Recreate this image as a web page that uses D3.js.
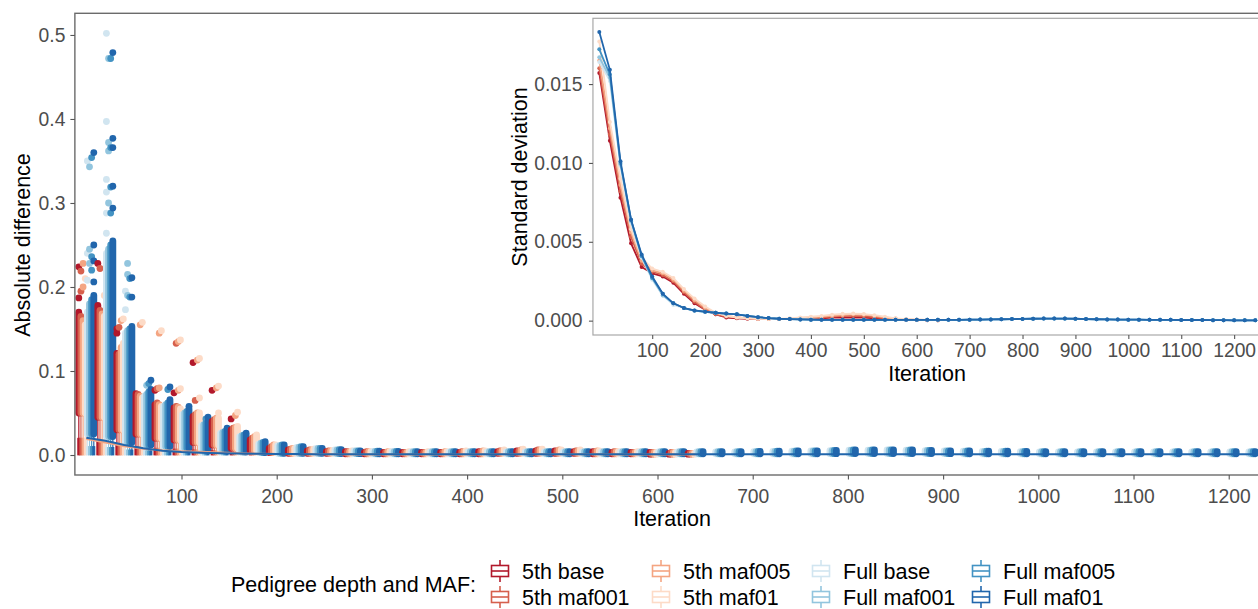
<!DOCTYPE html>
<html><head><meta charset="utf-8">
<script src="https://cdn.jsdelivr.net/npm/d3@7"></script>
<style>
body{margin:0;background:#fff;overflow:hidden;}
text{font-family:"Liberation Sans",Arial,Helvetica,sans-serif;}
</style></head><body>
<svg id="chart" width="1258" height="609"></svg>
<script>
// ---------------- categories / labels ----------------
const iterations = [1,20,40,60,80,100,120,140,160,180,200,220,240,260,280,300,320,340,360,380,400,420,440,460,480,500,520,540,560,580,600,620,640,660,680,700,720,740,760,780,800,820,840,860,880,900,920,940,960,980,1000,1020,1040,1060,1080,1100,1120,1140,1160,1180,1200,1220,1240];
const xTickLabels = [100,200,300,400,500,600,700,800,900,1000,1100,1200];
const mainYTicks = [0,0.1,0.2,0.3,0.4,0.5];
const insetYTicks = [0,0.005,0.010,0.015];
const seriesNames = ["5th base","5th maf001","5th maf005","5th maf01","Full base","Full maf001","Full maf005","Full maf01"];
const seriesColors = ["#b2182b","#d6604d","#f4a582","#fddbc7","#d1e5f0","#92c5de","#4393c3","#2166ac"];

// ---------------- main panel: box plots of absolute difference ----------------
// upper whisker (start of the dense run of outliers) and upper hinge, per pedigree depth
const whisker5th = [.050,.045,.030,.025,.020,.018,.015,.012,.008,.005,
 .003,.002,.002,.002,.0015,.0015,.0015,.0015,.0015,.0015,
 .0015,.0015,.002,.002,.002,.002,.002,.0015,.0015,.0015,
 .001,.001,.001];
const q3_5th = [.020,.018,.012,.010,.008,.007,.006,.005,.003,.002,
 .0012,.0008,.0008,.0008,.0006,.0006,.0006,.0006,.0006,.0006,
 .0006,.0006,.0008,.0008,.0008,.0008,.0008,.0006,.0006,.0006,
 .0004,.0004,.0004];
const whiskerFull = [.025,.022,.015,.012,.010,.008,.006,.005,.004,.003,
 .002,.002,.002,.0018,.0016,.0015,.0015,.0015,.0015,.0015,
 .0015,.0015,.0015,.0015,.0015,.0015,.0015,.0015,.0015,.0015,
 .0015,.0015,.0015,.0015,.0015,.0015,.0015,.0015,.0015,.0016,
 .0018,.0018,.0018,.0018,.0018,.0016,.0015,.0015,.0015,.0015,
 .0015,.0015,.0015,.0015,.0015,.0015,.0015,.0015,.0015,.0015,
 .0015,.0015,.0015];
const q3Full = [.010,.009,.006,.005,.004,.003,.0025,.002,.0016,.0012,
 .0008,.0008,.0008,.0007,.0006,.0006,.0006,.0006,.0006,.0006,
 .0006,.0006,.0006,.0006,.0006,.0006,.0006,.0006,.0006,.0006,
 .0006,.0006,.0006,.0006,.0006,.0006,.0006,.0006,.0006,.0006,
 .0007,.0007,.0007,.0007,.0007,.0006,.0006,.0006,.0006,.0006,
 .0006,.0006,.0006,.0006,.0006,.0006,.0006,.0006,.0006,.0006,
 .0006,.0006,.0006];
// top of the dense run of outliers, per series
const top5thBase = [.170,.178,.121,.073,.060,.056,.046,.040,.030,.018,
 .008,.006,.005,.004,.004,.003,.003,.003,.003,.003,
 .003,.004,.004,.005,.005,.005,.004,.004,.003,.003,
 .003,.002,.002];
const top5thMaf001 = [.165,.172,.120,.072,.062,.058,.048,.042,.032,.020,
 .010,.007,.006,.005,.004,.004,.003,.003,.003,.003,
 .004,.004,.005,.005,.006,.005,.005,.004,.004,.003,
 .003,.003,.002];
const top5thMaf005 = [.160,.168,.128,.070,.060,.057,.050,.044,.033,.022,
 .012,.008,.006,.005,.004,.004,.004,.003,.003,.004,
 .004,.005,.005,.006,.006,.006,.005,.005,.004,.003,
 .003,.003,.002];
const top5thMaf01 = [.155,.165,.133,.068,.058,.055,.050,.044,.034,.024,
 .012,.008,.007,.005,.005,.004,.004,.004,.004,.004,
 .005,.005,.006,.007,.007,.006,.006,.005,.004,.004,
 .003,.003,.002];
const topFullBase = [.170,.240,.145,.070,.058,.048,.035,.026,.022,.013,
 .011,.009,.0075,.006,.0048,.0043,.004,.0038,.0038,.0038,
 .0038,.0038,.0038,.0038,.0038,.0038,.0038,.0038,.0038,.0038,
 .0038,.0038,.0038,.0038,.0038,.004,.0043,.0046,.0048,.0052,
 .0057,.0058,.006,.0058,.0053,.0048,.0046,.0043,.0043,.004,
 .0038,.0038,.0038,.0038,.0038,.0038,.0038,.0038,.0038,.0038,
 .0038,.0038,.0038];
const topFullMaf001 = [.180,.245,.148,.072,.060,.050,.036,.027,.023,.014,
 .011,.0095,.0078,.0062,.0049,.0044,.0041,.0039,.0039,.0039,
 .0039,.0039,.0039,.0039,.0039,.0039,.0039,.0039,.0039,.0039,
 .0039,.0039,.0039,.0039,.0039,.0041,.0044,.0047,.0049,.0053,
 .0058,.0059,.0061,.0059,.0054,.0049,.0047,.0044,.0044,.0041,
 .0039,.0039,.0039,.0039,.0039,.0039,.0039,.0039,.0039,.0039,
 .0039,.0039,.0039];
const topFullMaf005 = [.185,.250,.150,.075,.062,.052,.038,.028,.024,.015,
 .012,.010,.008,.0064,.005,.0045,.0042,.004,.004,.004,
 .004,.004,.004,.004,.004,.004,.004,.004,.004,.004,
 .004,.004,.004,.004,.004,.0042,.0045,.0048,.005,.0055,
 .006,.006,.0062,.006,.0055,.005,.0048,.0045,.0045,.0042,
 .004,.004,.004,.004,.004,.004,.004,.004,.004,.004,
 .004,.004,.004];
const topFullMaf01 = [.190,.255,.153,.078,.066,.055,.040,.030,.026,.016,
 .012,.010,.008,.0065,.005,.0045,.0042,.004,.004,.004,
 .004,.004,.004,.004,.004,.004,.004,.004,.004,.004,
 .004,.004,.004,.004,.004,.0042,.0045,.0048,.005,.0055,
 .006,.006,.0062,.006,.0055,.005,.0048,.0045,.0045,.0042,
 .004,.004,.004,.004,.004,.004,.004,.004,.004,.004,
 .004,.004,.004];
// isolated outliers: [series index, iteration, value]
const extraOutliers = [
 [0,1,.224],[0,1,.187],[1,1,.195],[1,1,.219],[2,1,.200],[2,1,.228],[3,1,.210],
 [4,1,.208],[4,1,.240],[4,1,.350],[5,1,.228],[5,1,.245],[5,1,.343],[6,1,.220],[6,1,.236],[6,1,.354],
 [7,1,.206],[7,1,.231],[7,1,.250],[7,1,.360],
 [0,20,.228],[1,20,.222],[3,20,.190],
 [4,20,.264],[4,20,.288],[4,20,.313],[4,20,.328],[4,20,.397],[4,20,.502],
 [5,20,.300],[5,20,.362],[5,20,.372],[5,20,.472],
 [6,20,.288],[6,20,.319],[6,20,.366],[6,20,.472],
 [7,20,.294],[7,20,.320],[7,20,.366],[7,20,.377],[7,20,.479],
 [0,40,.145],[0,40,.150],[1,40,.152],[2,40,.160],[3,40,.162],
 [4,40,.173],[4,40,.195],[5,40,.190],[5,40,.215],[5,40,.228],[6,40,.188],[6,40,.210],[7,40,.188],[7,40,.211],
 [2,60,.155],[3,60,.158],[5,60,.083],[6,60,.085],[7,60,.089],
 [2,80,.145],[3,80,.148],[0,80,.077],[1,80,.079],[2,80,.080],[6,80,.078],[7,80,.081],
 [1,100,.133],[2,100,.135],[3,100,.137],[0,100,.074],[2,100,.077],[3,100,.079],[7,100,.058],
 [0,120,.110],[2,120,.113],[3,120,.115],[1,120,.065],[3,120,.068],[6,120,.043],[7,120,.045],
 [0,140,.077],[2,140,.080],[3,140,.082],[3,140,.050],[7,140,.032],
 [0,160,.043],[2,160,.047],[3,160,.051]
];
// mean lines in the main panel
const mean5th = [.0190,.0150,.0105,.0075,.0056,.0046,.0038,.0031,.0022,.0015,
 .0011,.0009,.0008,.0008,.0007,.0007,.0007,.0007,.0007,.0007,
 .0007,.0008,.0008,.0009,.0009,.0009,.0008,.0008,.0007,.0007,
 .0006,.0006,.0006];
const meanFull = [.0205,.0170,.0120,.0080,.0052,.0036,.0027,.0021,.0017,.0014,
 .0012,.0011,.0010,.0009,.0009,.0008,.0008,.0008,.0008,.0008,
 .0008,.0008,.0008,.0008,.0008,.0008,.0008,.0008,.0008,.0008,
 .0008,.0008,.0008,.0008,.0008,.0008,.0008,.0008,.0009,.0009,
 .0009,.0009,.0009,.0009,.0009,.0009,.0008,.0008,.0008,.0008,
 .0008,.0008,.0008,.0008,.0008,.0008,.0008,.0008,.0008,.0008,
 .0008,.0008,.0008];

// ---------------- inset: standard deviation ----------------
const sd5thBase = [.0157,.0114,.0078,.0049,.0034,.0030,.0028,.0024,.0017,.0011,
 .0007,.0004,.0002,.00015,.00012,.0001,.0001,.0001,.0001,.0001,
 .00012,.00015,.0002,.0002,.0002,.0002,.00015,.0001,.00008,.00005,
 .00004,.00003,.00003];
const sd5thMaf001 = [.0160,.0118,.0082,.0053,.0036,.0031,.0029,.0025,.0018,.0012,
 .0007,.0004,.00025,.0002,.00015,.00012,.0001,.0001,.0001,.00012,
 .00015,.0002,.00025,.0003,.0003,.00028,.00022,.00015,.0001,.00007,
 .00005,.00004,.00003];
const sd5thMaf005 = [.0165,.0122,.0086,.0056,.0038,.0032,.0030,.0026,.0019,.0013,
 .0008,.0005,.0003,.0002,.00015,.00012,.0001,.0001,.00012,.00015,
 .0002,.00025,.0003,.00035,.0004,.00038,.0003,.0002,.00013,.00008,
 .00006,.00004,.00003];
const sd5thMaf01 = [.0177,.0126,.0090,.0058,.0040,.0033,.0031,.0027,.0020,.0014,
 .0009,.0005,.0003,.0002,.00015,.00012,.0001,.00012,.00015,.0002,
 .00025,.0003,.00038,.00043,.00045,.00042,.00035,.00025,.00015,.0001,
 .00007,.00005,.00004];
const sdFullBase = [.0164,.0152,.0098,.0062,.0040,.0026,.0016,.0010,.0008,.00062,
 .00055,.0005,.00045,.0004,.0003,.00022,.00016,.00012,.0001,.00008,
 .00006,.00005,.00005,.00005,.00005,.00005,.00005,.00005,.00005,.00005,
 .00005,.00005,.00005,.00005,.00005,.00006,.00007,.00008,.00009,.0001,
 .00011,.00012,.00012,.00012,.00012,.00011,.0001,.00009,.00008,.00007,
 .00006,.00006,.00005,.00005,.00005,.00004,.00004,.00004,.00003,.00003,
 .00002,.00002,.00002];
const sdFullMaf001 = [.0167,.0154,.0099,.0063,.0041,.0027,.0016,.0011,.0008,.00063,
 .00056,.0005,.00045,.0004,.0003,.00022,.00016,.00012,.0001,.00008,
 .00006,.00005,.00005,.00005,.00005,.00005,.00005,.00005,.00005,.00005,
 .00005,.00005,.00005,.00005,.00005,.00006,.00007,.00008,.00009,.0001,
 .00011,.00012,.00013,.00013,.00012,.00011,.0001,.00009,.00008,.00007,
 .00006,.00006,.00005,.00005,.00005,.00004,.00004,.00004,.00003,.00003,
 .00002,.00002,.00002];
const sdFullMaf005 = [.0172,.0156,.0100,.0064,.0041,.0027,.0017,.0011,.0008,.00064,
 .00056,.0005,.00045,.0004,.0003,.00022,.00016,.00012,.0001,.00008,
 .00006,.00005,.00005,.00005,.00005,.00005,.00005,.00005,.00005,.00005,
 .00005,.00005,.00005,.00005,.00005,.00006,.00007,.00008,.00009,.0001,
 .00011,.00012,.00013,.00013,.00013,.00012,.0001,.00009,.00008,.00007,
 .00006,.00006,.00005,.00005,.00005,.00004,.00004,.00004,.00003,.00003,
 .00002,.00002,.00002];
const sdFullMaf01 = [.0183,.0159,.0101,.0064,.0042,.0028,.0017,.0011,.0008,.00065,
 .00057,.0005,.00045,.0004,.0003,.00022,.00016,.00012,.0001,.00008,
 .00006,.00005,.00005,.00005,.00005,.00005,.00005,.00005,.00005,.00005,
 .00005,.00005,.00005,.00005,.00005,.00006,.00007,.00008,.00009,.0001,
 .00011,.00012,.00013,.00013,.00013,.00012,.0001,.00009,.00008,.00007,
 .00006,.00006,.00005,.00005,.00005,.00004,.00004,.00004,.00003,.00003,
 .00002,.00002,.00002];

// ---------------- tables built from the arrays ----------------
const mainTops = [top5thBase,top5thMaf001,top5thMaf005,top5thMaf01,topFullBase,topFullMaf001,topFullMaf005,topFullMaf01];
const sdSeries = [sd5thBase,sd5thMaf001,sd5thMaf005,sd5thMaf01,sdFullBase,sdFullMaf001,sdFullMaf005,sdFullMaf01];

const svg = d3.select("#chart");
const TICK_COL = "#4d4d4d";

// ================= MAIN PANEL =================
const xM = d3.scalePoint().domain(iterations).range([86.3, 1266.8]);
const stepM = xM.step();
const yM = d3.scaleLinear().domain([-0.0238, 0.5258]).range([475, 13.3]);
const mL = xM(iterations[0]) - 0.6*stepM, mR = xM(iterations[iterations.length-1]) + 0.6*stepM;
const mT = 13.3, mB = 475;

svg.append("defs").append("clipPath").attr("id","clipMain")
  .append("rect").attr("x",mL).attr("y",mT).attr("width",mR-mL).attr("height",mB-mT);

const mainG = svg.append("g").attr("clip-path","url(#clipMain)");
const boxW = 0.9*stepM/8;
const R = 3.4;

iterations.forEach((it, gi) => {
  for (let s = 0; s < 8; s++) {
    const top = mainTops[s][gi];
    if (top === undefined) continue;
    const full = s >= 4;
    const wh = full ? whiskerFull[gi] : whisker5th[gi];
    const q3 = full ? q3Full[gi] : q3_5th[gi];
    const cx = xM(it) + (s - 3.5)*boxW;
    const col = seriesColors[s];
    // outliers: dense run drawn as overlapping points (capsule), then isolated ones
    mainG.append("line").attr("x1",cx).attr("x2",cx)
      .attr("y1",yM(wh)).attr("y2",yM(top))
      .attr("stroke",col).attr("stroke-width",2*R).attr("stroke-linecap","round");
    extraOutliers.filter(o => o[0]===s && o[1]===it).forEach(o => {
      mainG.append("circle").attr("cx",cx).attr("cy",yM(o[2])).attr("r",R).attr("fill",col);
    });
    // whisker
    mainG.append("line").attr("x1",cx).attr("x2",cx)
      .attr("y1",yM(0)).attr("y2",yM(wh))
      .attr("stroke",col).attr("stroke-width",1.2);
    // box (narrow at this scale: reads as a solid coloured bar)
    mainG.append("rect").attr("x",cx-boxW/2).attr("y",yM(q3))
      .attr("width",boxW).attr("height",Math.max(0.5,yM(0)-yM(q3)))
      .attr("fill",col).attr("stroke",col).attr("stroke-width",0.8);
  }
});

const lineM = d3.line().x((d,i)=>xM(iterations[i])).y(d=>yM(d));
mainG.append("path").datum(mean5th).attr("d",lineM).attr("fill","none")
  .attr("stroke","#f4a582").attr("stroke-width",2);
mainG.append("path").datum(meanFull).attr("d",lineM).attr("fill","none")
  .attr("stroke","#2166ac").attr("stroke-width",2);

// panel border
svg.append("rect").attr("x",mL).attr("y",mT).attr("width",mR-mL).attr("height",mB-mT)
  .attr("fill","none").attr("stroke","#6b6b6b").attr("stroke-width",1.4);

// main axes
const axYM = svg.append("g").attr("transform",`translate(${mL},0)`)
  .call(d3.axisLeft(yM).tickValues(mainYTicks).tickFormat(d3.format(".1f")).tickSize(4.5).tickPadding(5));
const axXM = svg.append("g").attr("transform",`translate(0,${mB})`)
  .call(d3.axisBottom(xM).tickValues(xTickLabels).tickSize(4.5).tickPadding(10));
[axYM, axXM].forEach(a => {
  a.select(".domain").remove();
  a.selectAll(".tick line").attr("stroke","#555").attr("stroke-width",1.1);
  a.selectAll(".tick text").attr("fill",TICK_COL).attr("font-size",19.3)
    .attr("font-family",'"Liberation Sans",Arial,sans-serif');
});
svg.append("text").attr("transform","translate(29.5,245) rotate(-90)")
  .attr("text-anchor","middle").attr("font-size",21.5).attr("fill","#000").text("Absolute difference");
svg.append("text").attr("x",672).attr("y",525.5)
  .attr("text-anchor","middle").attr("font-size",21.5).attr("fill","#000").text("Iteration");

// ================= INSET =================
const xI = d3.scalePoint().domain(iterations).range([599.3, 1255.3]);
const stepI = xI.step();
const yI = d3.scaleLinear().domain([-0.00091, 0.01917]).range([335, 18.3]);
const iL = xI(iterations[0]) - 0.6*stepI, iR = xI(iterations[iterations.length-1]) + 0.6*stepI;
const iT = 18.3, iB = 335;
svg.append("rect").attr("x",iL).attr("y",iT).attr("width",iR-iL).attr("height",iB-iT)
  .attr("fill","#fff").attr("stroke","#a8a8a8").attr("stroke-width",1.2);
const insetG = svg.append("g");
const lineI = d3.line().x((d,i)=>xI(iterations[i])).y(d=>yI(d));
sdSeries.forEach((arr, s) => {
  const col = seriesColors[s];
  insetG.append("path").datum(arr).attr("d",lineI).attr("fill","none")
    .attr("stroke",col).attr("stroke-width",1.8).attr("stroke-linejoin","round");
  insetG.selectAll(null).data(arr).enter().append("circle")
    .attr("cx",(d,i)=>xI(iterations[i])).attr("cy",d=>yI(d)).attr("r",2).attr("fill",col);
});
const axYI = svg.append("g").attr("transform",`translate(${iL},0)`)
  .call(d3.axisLeft(yI).tickValues(insetYTicks).tickFormat(d3.format(".3f")).tickSize(4).tickPadding(6.5));
const axXI = svg.append("g").attr("transform",`translate(0,${iB})`)
  .call(d3.axisBottom(xI).tickValues(xTickLabels).tickSize(4).tickPadding(4.5));
[axYI, axXI].forEach(a => {
  a.select(".domain").remove();
  a.selectAll(".tick line").attr("stroke","#555").attr("stroke-width",1.1);
  a.selectAll(".tick text").attr("fill",TICK_COL).attr("font-size",19.3)
    .attr("font-family",'"Liberation Sans",Arial,sans-serif');
});
svg.append("text").attr("transform","translate(527,177) rotate(-90)")
  .attr("text-anchor","middle").attr("font-size",21.5).attr("fill","#000").text("Standard deviation");
svg.append("text").attr("x",927).attr("y",380.5)
  .attr("text-anchor","middle").attr("font-size",21.5).attr("fill","#000").text("Iteration");

// ================= LEGEND =================
const legendTextX = [522, 683, 843, 1003];
const legendRowY = [571, 597];
svg.append("text").attr("x",476).attr("y",591.5).attr("text-anchor","end")
  .attr("font-size",21.5).attr("fill","#000").text("Pedigree depth and MAF:");
seriesNames.forEach((name, s) => {
  const col = Math.floor(s/2), row = s%2;
  const tx = legendTextX[col], cy = legendRowY[row];
  const kx = tx - 22;
  const g = svg.append("g");
  const c = seriesColors[s];
  g.append("line").attr("x1",kx).attr("x2",kx).attr("y1",cy-11).attr("y2",cy-5.5).attr("stroke",c).attr("stroke-width",1.6);
  g.append("line").attr("x1",kx).attr("x2",kx).attr("y1",cy+5.5).attr("y2",cy+11).attr("stroke",c).attr("stroke-width",1.6);
  g.append("rect").attr("x",kx-8.5).attr("y",cy-5.5).attr("width",17).attr("height",11)
    .attr("fill","#fff").attr("stroke",c).attr("stroke-width",1.6);
  g.append("line").attr("x1",kx-8.5).attr("x2",kx+8.5).attr("y1",cy).attr("y2",cy).attr("stroke",c).attr("stroke-width",1.6);
  svg.append("text").attr("x",tx).attr("y",cy+7.6).attr("font-size",21.5).attr("fill","#000").text(name);
});
</script>
</body></html>
